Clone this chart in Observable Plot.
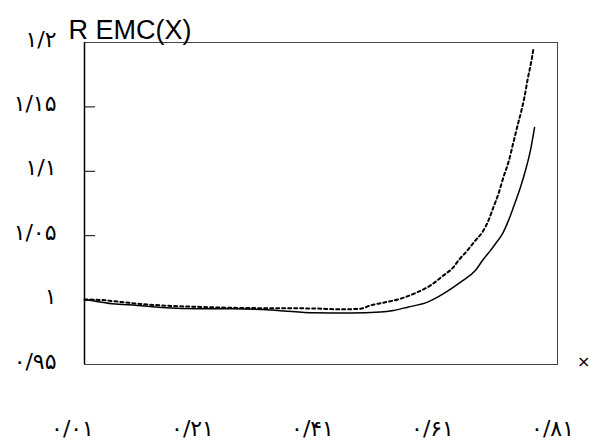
<!DOCTYPE html>
<html>
<head>
<meta charset="utf-8">
<script src="https://cdn.jsdelivr.net/npm/d3@7"></script>
<script src="https://cdn.jsdelivr.net/npm/@observablehq/plot@0.6"></script>
<style>
  html, body { margin: 0; padding: 0; background: #fff; }
  #chart svg { display: block; }
</style>
</head>
<body>
<div id="chart"></div>
<script>
const xSolid = [0.03, 0.0467, 0.0767, 0.1183, 0.1583, 0.225, 0.28, 0.3517, 0.4117, 0.4733, 0.5233, 0.545, 0.5683, 0.6017, 0.6283, 0.645, 0.6567, 0.6817, 0.6933, 0.7067, 0.715, 0.7267, 0.7367, 0.745, 0.7567, 0.765, 0.7733, 0.78];
const ySolid = [1.0005, 0.9992, 0.9972, 0.9959, 0.9943, 0.9933, 0.9933, 0.9920, 0.9902, 0.9899, 0.9907, 0.9920, 0.9945, 0.9984, 1.0050, 1.0101, 1.0140, 1.0231, 1.0308, 1.0386, 1.0438, 1.0516, 1.0619, 1.0723, 1.0878, 1.1008, 1.1164, 1.1340];
const xDotted = [0.03, 0.0567, 0.09, 0.1233, 0.1567, 0.2233, 0.29, 0.4117, 0.4567, 0.49, 0.5067, 0.5283, 0.5567, 0.585, 0.6067, 0.6283, 0.645, 0.6533, 0.6683, 0.6817, 0.6933, 0.7033, 0.7117, 0.72, 0.7283, 0.7367, 0.745, 0.7533, 0.7583, 0.7633, 0.7683, 0.775, 0.7783];
const yDotted = [1.0005, 1.0001, 0.9986, 0.9970, 0.9959, 0.9947, 0.9939, 0.9935, 0.9928, 0.9933, 0.9959, 0.9980, 1.0011, 1.0062, 1.0114, 1.0192, 1.0256, 1.0308, 1.0386, 1.0464, 1.0528, 1.0619, 1.0723, 1.0827, 1.0956, 1.1073, 1.1228, 1.1384, 1.1474, 1.1578, 1.1708, 1.1863, 1.1954];
const yTicks = [0.95, 1.0, 1.05, 1.1, 1.15, 1.2];
const yTickLabels = ["۰/۹۵", "۱", "۱/۰۵", "۱/۱", "۱/۱۵", "۱/۲"];
const xTicks = [0.01, 0.21, 0.41, 0.61, 0.81];
const xTickLabels = ["۰/۰۱", "۰/۲۱", "۰/۴۱", "۰/۶۱", "۰/۸۱"];
const titleText = "R EMC(X)";
const xAxisName = "×";

const solid = xSolid.map((x, i) => ({x, y: ySolid[i]}));
const dotted = xDotted.map((x, i) => ({x, y: yDotted[i]}));
const yT = yTicks.map((v, i) => ({v, t: yTickLabels[i]}));
const xT = xTicks.map((v, i) => ({v, t: xTickLabels[i]}));

const chart = Plot.plot({
  width: 589,
  height: 443,
  marginLeft: 84,
  marginRight: 32,
  marginTop: 42,
  marginBottom: 79,
  style: {fontFamily: "DejaVu Sans", background: "#fff"},
  x: {domain: [0.03, 0.8183], axis: null},
  y: {domain: [0.95, 1.2], axis: null},
  marks: [
    Plot.frame({stroke: "#444", strokeWidth: 1}),
    Plot.ruleX([0.03], {stroke: "#000", strokeWidth: 1.5}),
    Plot.ruleY(yTicks.slice(1, 5), {stroke: "#000", strokeWidth: 1, insetRight: 462}),
    Plot.line(dotted, {x: "x", y: "y", stroke: "#000", strokeWidth: 2, strokeDasharray: "3,3", curve: "monotone-x"}),
    Plot.line(solid, {x: "x", y: "y", stroke: "#000", strokeWidth: 1.5, curve: "monotone-x"}),
    Plot.text(yT, {y: "v", text: "t", frameAnchor: "left", dx: -28, dy: -3, textAnchor: "end", fontSize: 22, fill: "#000"}),
    Plot.text(xT, {x: "v", text: "t", frameAnchor: "bottom", dy: 71, fontSize: 22, fill: "#000"}),
    Plot.text([titleText], {frameAnchor: "top-left", dx: -16, dy: -4, textAnchor: "start", lineAnchor: "bottom", fontSize: 27, fontFamily: "Liberation Sans", letterSpacing: "-2.2px", fill: "#000"}),
    Plot.text([xAxisName], {frameAnchor: "bottom-right", dx: 33, dy: 2, fontSize: 16, fill: "#000"})
  ]
});
document.getElementById("chart").appendChild(chart);
</script>
</body>
</html>
